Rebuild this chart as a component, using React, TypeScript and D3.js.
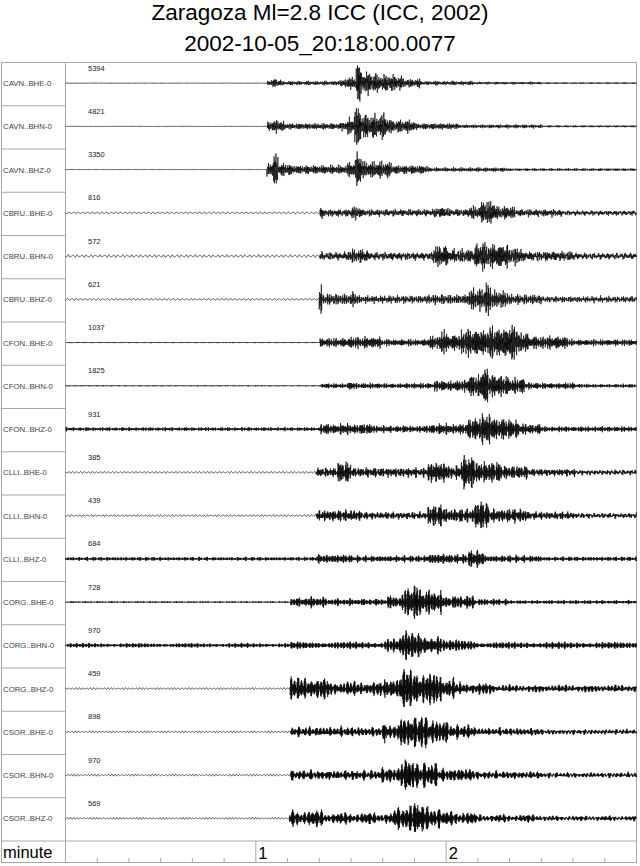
import React, { useMemo } from "react";
import * as d3 from "d3";

// ---------- DATA ----------
const titleLine1 = "Zaragoza Ml=2.8 ICC (ICC, 2002)";
const titleLine2 = "2002-10-05_20:18:00.0077";

const stations = [
  "CAVN..BHE-0", "CAVN..BHN-0", "CAVN..BHZ-0",
  "CBRU..BHE-0", "CBRU..BHN-0", "CBRU..BHZ-0",
  "CFON..BHE-0", "CFON..BHN-0", "CFON..BHZ-0",
  "CLLI..BHE-0", "CLLI..BHN-0", "CLLI..BHZ-0",
  "CORG..BHE-0", "CORG..BHN-0", "CORG..BHZ-0",
  "CSOR..BHE-0", "CSOR..BHN-0", "CSOR..BHZ-0",
];

const peakCounts = [5394, 4821, 3350, 816, 572, 621, 1037, 1825, 931, 385, 439, 684, 728, 970, 459, 898, 970, 569];

// long-period background noise, % of trace half-height
const lowFreqNoise = [0, 0, 0, 5, 7, 5, 0, 0, 0, 5, 5, 0, 0, 0, 5, 5, 5, 5];

// envelope: [start second, amplitude % of half-height]
const CAVN_BHE = [[0, 1], [63.7, 13], [65.5, 17], [67, 13], [68, 8], [85, 11], [88, 25], [91.6, 100], [93.2, 50], [96, 38], [99.5, 33], [106, 17], [112, 8], [129, 5], [150, 3]];
const CAVN_BHN = [[0, 1], [63.7, 25], [64.5, 20], [66.3, 33], [67, 20], [69, 12], [87, 20], [89, 33], [91, 100], [93.2, 50], [100, 58], [101, 40], [102, 25], [110, 12], [123.7, 7], [150, 4]];
const CAVN_BHZ = [[0, 1], [63.5, 30], [65.5, 75], [67, 25], [71, 17], [89, 33], [91.6, 95], [93.2, 33], [102.7, 17], [114, 8], [139.5, 5]];
const CBRU_BHE = [[0, 0], [80.2, 25], [81, 13], [90, 25], [93.2, 12], [116.3, 20], [120.6, 13], [126.9, 25], [131.1, 50], [135.3, 25], [141.6, 13], [156.3, 8]];
const CBRU_BHN = [[0, 0], [80.2, 13], [89, 25], [95.3, 13], [115.8, 42], [120.6, 25], [129, 50], [131.1, 92], [132.1, 50], [139.5, 33], [143.7, 17], [160.6, 10]];
const CBRU_BHZ = [[0, 0], [80, 58], [80.8, 20], [90.5, 30], [91.5, 20], [92.1, 13], [114.2, 17], [126.9, 42], [132.1, 73], [134.2, 33], [139.5, 17], [150, 10]];
const CFON_BHE = [[0, 2], [80.2, 17], [89, 22], [99.5, 13], [114.2, 25], [118.2, 70], [119.5, 33], [124.8, 58], [134, 92], [134.8, 67], [139.5, 85], [142.7, 42], [145.8, 25], [158.5, 12]];
const CFON_BHN = [[0, 2], [80.5, 8], [81, 10], [89, 17], [91, 10], [116.3, 22], [126.9, 42], [131.1, 92], [133.2, 50], [139.5, 30], [144.7, 12], [160.6, 7]];
const CFON_BHZ = [[0, 7], [80.2, 20], [97.4, 13], [114.2, 20], [126.9, 50], [131.1, 67], [135.3, 42], [142.7, 20], [150, 10]];
const CLLI_BHE = [[0, 0], [79, 17], [85.8, 42], [90, 17], [114.2, 42], [120.6, 25], [124.8, 75], [129, 42], [137.4, 25], [145.8, 13], [160.6, 8]];
const CLLI_BHN = [[0, 0], [79, 13], [80, 20], [93.2, 12], [114.2, 42], [119.5, 25], [129, 62], [133.2, 25], [145.8, 13], [160.6, 8]];
const CLLI_BHZ = [[0, 7], [79, 17], [90, 12], [114.2, 20], [120.6, 17], [126.9, 33], [132.1, 13], [150, 8]];
const CORG_BHE = [[0, 3], [71, 17], [75, 20], [81.6, 13], [101.6, 25], [106.9, 75], [112.1, 50], [118.5, 25], [129, 12], [139.5, 7]];
const CORG_BHN = [[0, 8], [71, 13], [100.6, 25], [105.8, 58], [112.1, 42], [118.5, 20], [129, 12]];
const CORG_BHZ = [[0, 0], [70.8, 58], [71.5, 42], [82.7, 25], [100.6, 42], [105.8, 97], [111.1, 67], [118.5, 42], [122.7, 20], [135.3, 12]];
const CSOR_BHE = [[0, 0], [70.9, 13], [71.1, 17], [99.5, 25], [100.6, 87], [101.2, 25], [104.8, 67], [112, 90], [112.6, 67], [114.2, 50], [120.6, 25], [129, 13], [150, 8]];
const CSOR_BHN = [[0, 0], [70.9, 17], [99.5, 30], [105.8, 75], [110, 50], [117.4, 25], [129, 13], [150, 8]];
const CSOR_BHZ = [[0, 0], [70.6, 25], [71.5, 30], [81.6, 20], [103.7, 42], [106.9, 80], [111.1, 50], [118.5, 25], [129, 13], [150, 8]];

const envelopes = [
  CAVN_BHE, CAVN_BHN, CAVN_BHZ, CBRU_BHE, CBRU_BHN, CBRU_BHZ,
  CFON_BHE, CFON_BHN, CFON_BHZ, CLLI_BHE, CLLI_BHN, CLLI_BHZ,
  CORG_BHE, CORG_BHN, CORG_BHZ, CSOR_BHE, CSOR_BHN, CSOR_BHZ,
];

const durationSec = 180;
const minorTickSec = [10, 20, 30, 40, 50, 70, 80, 90, 100, 110, 130, 140, 150, 160, 170];
const minuteTicks = [1, 2];
const axisLabel = "minute";

// ---------- LAYOUT ----------
const W = 640;
const H = 866;
const frameLeft = 1.5;
const divider = 65.5;
const frameRight = 636.5;
const frameTop = 62.5;
const rowH = 43.25;
const axisTop = frameTop + rowH * stations.length;
const frameBottom = 862.5;
const halfPx = 20;
const sampleDt = 0.05;
const FONT = "'Liberation Sans', Arial, Helvetica, sans-serif";
const GRID = "#a8a8a8";

function envAt(env: number[][], t: number) {
  let v = env[0][1];
  for (let k = 0; k < env.length; k++) {
    if (env[k][0] <= t) v = env[k][1];
    else break;
  }
  return v;
}

export default function App() {
  const x = useMemo(() => d3.scaleLinear().domain([0, durationSec]).range([divider, frameRight]), []);

  const paths = useMemo(() => {
    const times = d3.range(0, durationSec + sampleDt / 2, sampleDt);
    return envelopes.map((env, i) => {
      const base = frameTop + i * rowH + 20.6;
      const y = d3.scaleLinear().domain([-100, 100]).range([base + halfPx, base - halfPx]);
      const f1 = 3.1 + 0.13 * i, f2 = 4.9 + 0.07 * i, f3 = 7.3 - 0.11 * i;
      const lf = lowFreqNoise[i];
      const line = d3.line<number>()
        .x((t) => x(t))
        .y((t) => {
          const a = envAt(env, t);
          const tau = 2 * Math.PI * t;
          const carrier =
            (Math.sin(tau * f1 + i) + 0.75 * Math.sin(tau * f2 + 2.1 * i + 1) + 0.5 * Math.sin(tau * f3 + 3.3 * i + 2)) / 1.9;
          const mod = 0.78 + 0.22 * Math.sin(tau * (0.37 + 0.01 * i) + i * 1.7);
          const slow = lf * (0.7 * Math.sin(tau * (0.62 + 0.02 * i) + i) + 0.3 * Math.sin(tau * 1.1 + 2 * i));
          const raw = 1.45 * a * carrier * mod;
          const soft = 105 * Math.tanh(raw / 105);
          return y(soft + slow);
        });
      return { d: line(times) as string, base };
    });
  }, [x]);

  return (
    <svg
      width={W}
      height={H}
      viewBox={`0 0 ${W} ${H}`}
      style={{ position: "absolute", left: 0, top: 0, background: "#fff" }}
      fontFamily={FONT}
    >
      <rect x={0} y={0} width={W} height={H} fill="#fff" />
      <text x={320} y={20} textAnchor="middle" fontSize={22.5} fill="#000">{titleLine1}</text>
      <text x={320} y={51} textAnchor="middle" fontSize={22.5} fill="#000">{titleLine2}</text>

      {/* frame */}
      <rect x={frameLeft} y={frameTop} width={frameRight - frameLeft} height={frameBottom - frameTop} fill="none" stroke={GRID} strokeWidth={1} />
      <line x1={divider} x2={divider} y1={frameTop} y2={frameBottom} stroke={GRID} strokeWidth={1} />
      <line x1={frameLeft} x2={frameRight} y1={axisTop} y2={axisTop} stroke={GRID} strokeWidth={1} />
      {stations.slice(1).map((_, i) => (
        <line key={i} x1={frameLeft} x2={divider} y1={frameTop + (i + 1) * rowH} y2={frameTop + (i + 1) * rowH} stroke={GRID} strokeWidth={1} />
      ))}

      {/* traces */}
      {paths.map((p, i) => (
        <g key={i}>
          <path d={p.d} fill="none" stroke="#000" strokeWidth={0.65} strokeLinejoin="round" />
          <text x={3} y={p.base + 3} fontSize={7.8} fill="#444">{stations[i]}</text>
          <text x={88} y={p.base - 12.5} fontSize={7.5} fill="#222">{peakCounts[i]}</text>
        </g>
      ))}

      {/* time axis */}
      <text x={3} y={858} fontSize={16.5} fill="#000">{axisLabel}</text>
      {minorTickSec.map((s) => (
        <line key={s} x1={x(s)} x2={x(s)} y1={frameBottom - 4.5} y2={frameBottom} stroke={GRID} strokeWidth={1} />
      ))}
      {minuteTicks.map((m) => (
        <g key={m}>
          <line x1={x(m * 60)} x2={x(m * 60)} y1={axisTop} y2={frameBottom} stroke={GRID} strokeWidth={1} />
          <text x={x(m * 60) + 2.5} y={858.5} fontSize={16.5} fill="#000">{m}</text>
        </g>
      ))}
    </svg>
  );
}
